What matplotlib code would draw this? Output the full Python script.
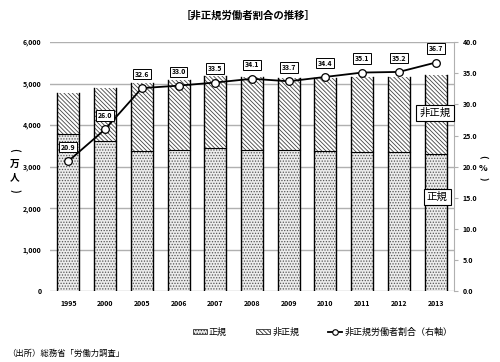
import numpy as np
import matplotlib.pyplot as plt
import matplotlib as mpl
from matplotlib.patches import Patch
from matplotlib.lines import Line2D

plt.rcParams['font.family'] = ['Noto Sans CJK JP', 'DejaVu Sans']
mpl.rcParams['hatch.linewidth'] = 0.6

# data (万人, %)
years = ['1995', '2000', '2005', '2006', '2007', '2008', '2009', '2010', '2011', '2012', '2013']
regular = [3779, 3630, 3374, 3411, 3441, 3399, 3395, 3374, 3352, 3345, 3302]
nonregular = [1001, 1273, 1634, 1678, 1735, 1765, 1727, 1756, 1811, 1816, 1906]
ratio = [20.9, 26.0, 32.6, 33.0, 33.5, 34.1, 33.7, 34.4, 35.1, 35.2, 36.7]

fig = plt.figure(figsize=(5.0, 3.62), dpi=100)
ax = fig.add_axes([0.10, 0.195, 0.808, 0.689])
ax2 = ax.twinx()

x = np.arange(len(years))
w = 0.6
dots = '......'
diag = '\\' * 8

ax.bar(x, regular, w, color='#ececec', edgecolor='#555555', hatch=dots,
       linewidth=0, zorder=2)
ax.bar(x, nonregular, w, bottom=regular, color='white', edgecolor='#444444',
       hatch=diag, linewidth=0, zorder=2)
# black outlines on bar sides
for xi, r, n in zip(x, regular, nonregular):
    ax.plot([xi - w / 2, xi - w / 2], [0, r + n], color='black', lw=1.0, zorder=3)
    ax.plot([xi + w / 2, xi + w / 2], [0, r + n], color='black', lw=1.0, zorder=3)
    ax.plot([xi - w / 2, xi + w / 2], [r, r], color='black', lw=0.8, zorder=3)

ax.set_ylim(0, 6000)
ax.set_xlim(-0.5, len(years) - 0.5)
ax.set_yticks(range(0, 6001, 1000))
ax.set_yticklabels([f'{v:,}' for v in range(0, 6001, 1000)], fontsize=5, fontweight='bold')
ax.set_xticks(x)
ax.set_xticklabels(years, fontsize=5, fontweight='bold')
ax.tick_params(axis='both', length=0, pad=6)
ax.grid(axis='y', color='#b0b0b0', lw=1.0, zorder=0)
ax.set_axisbelow(True)
for s in ['top', 'left', 'right', 'bottom']:
    ax.spines[s].set_visible(False)

ax2.plot(x, ratio, color='black', lw=1.3, marker='o', ms=5.5,
         mfc='white', mec='black', mew=0.9, zorder=5)
ax2.set_ylim(0, 40)
ax2.set_yticks(np.arange(0, 40.1, 5))
ax2.set_yticklabels([f'{v:.1f}' for v in np.arange(0, 40.1, 5)], fontsize=5, fontweight='bold')
ax2.tick_params(axis='y', length=3, color='#b0b0b0', pad=3)
for s in ['top', 'left', 'bottom']:
    ax2.spines[s].set_visible(False)
ax2.spines['right'].set_color('#b0b0b0')

for xi, v in zip(x, ratio):
    ax2.annotate(f'{v:.1f}', (xi, v), xytext=(0, 10), textcoords='offset points',
                 ha='center', va='center', fontsize=5, fontweight='bold',
                 bbox=dict(boxstyle='square,pad=0.25', fc='white', ec='black', lw=0.7),
                 zorder=6)

# category labels inside plot
fig.text(0.870, 0.688, '非正規', fontsize=7.5, ha='center', va='center',
         bbox=dict(boxstyle='square,pad=0.3', fc='white', ec='black', lw=0.8))
fig.text(0.874, 0.456, '正規', fontsize=7.5, ha='center', va='center',
         bbox=dict(boxstyle='square,pad=0.3', fc='white', ec='black', lw=0.8))

# axis unit labels (vertical, upright characters, rotated brackets)
fig.text(0.030, 0.585, '(', fontsize=7, rotation=-90, ha='center', va='center', fontweight='bold')
fig.text(0.030, 0.548, '万', fontsize=7, ha='center', va='center', fontweight='bold')
fig.text(0.030, 0.510, '人', fontsize=7, ha='center', va='center', fontweight='bold')
fig.text(0.030, 0.474, ')', fontsize=7, rotation=-90, ha='center', va='center', fontweight='bold')
fig.text(0.966, 0.566, '(', fontsize=6.5, rotation=-90, ha='center', va='center', fontweight='bold')
fig.text(0.966, 0.535, '%', fontsize=6.5, ha='center', va='center', fontweight='bold')
fig.text(0.966, 0.505, ')', fontsize=6.5, rotation=-90, ha='center', va='center', fontweight='bold')

fig.text(0.497, 0.958, '［非正規労働者割合の推移］', fontsize=7.5, fontweight='bold',
         ha='center', va='center')

h1 = Patch(facecolor='#ececec', edgecolor='#333333', hatch=dots, lw=0.6)
h2 = Patch(facecolor='white', edgecolor='#333333', hatch=diag, lw=0.6)
h3 = Line2D([], [], color='black', lw=1.3, marker='o', ms=4, mfc='white', mec='black', mew=0.8)
fig.legend([h1, h2, h3], ['正規', '非正規', '非正規労働者割合（右軸）'],
           loc='center', bbox_to_anchor=(0.645, 0.083), ncol=3, frameon=False,
           fontsize=6.5, handlelength=1.6, handleheight=0.5, columnspacing=3.2,
           handletextpad=0.2)

fig.text(0.015, 0.025, '（出所）総務省「労働力調査」', fontsize=6, ha='left', va='center')

fig.savefig('out.png', dpi=100)
